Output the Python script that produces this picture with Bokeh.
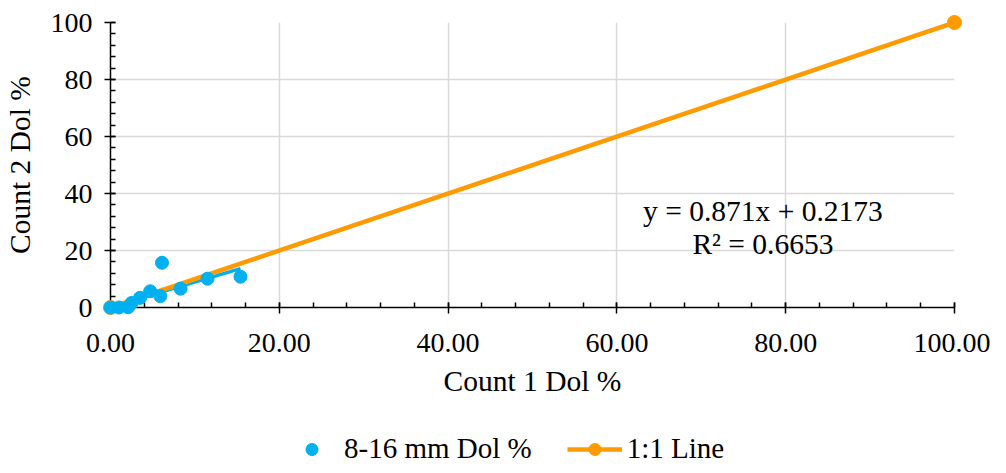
from bokeh.plotting import figure
from bokeh.layouts import column
from bokeh.models import (ColumnDataSource, Range1d, SingleIntervalTicker, NumeralTickFormatter,
                          Legend, LegendItem, Label)
from bokeh.embed import file_html
from bokeh.resources import INLINE

# ---- data ----
count1 = [0.0, 1.0, 2.1, 2.5, 3.5, 4.7, 5.9, 6.1, 8.3, 11.5, 15.4]
count2 = [0.0, 0.0, 0.1, 1.6, 3.4, 5.7, 4.0, 15.7, 6.6, 10.1, 10.8]
one_to_one_x = [0, 100]
one_to_one_y = [0, 100]
slope = 0.871
intercept = 0.2173
r2 = 0.6653
x_ticks = [0, 20, 40, 60, 80, 100]
y_ticks = [0, 20, 40, 60, 80, 100]
series_labels = ["8-16 mm Dol %", "1:1 Line"]

FONT = "Liberation Serif"
BLUE = "#00B0F0"
ORANGE = "#FF9A00"

p = figure(width=990, height=410, output_backend="svg", toolbar_location=None,
           x_range=Range1d(0, 100), y_range=Range1d(0, 100),
           min_border_left=105, min_border_right=36, min_border_top=22, min_border_bottom=103)
p.outline_line_color = None
p.background_fill_color = "white"
p.border_fill_color = "white"

for ax, tk in ((p.xaxis[0], x_ticks), (p.yaxis[0], y_ticks)):
    ax.ticker = SingleIntervalTicker(interval=tk[1] - tk[0], num_minor_ticks=5)
    ax.axis_line_color = "black"
    ax.axis_line_width = 1.5
    ax.major_tick_line_color = "black"
    ax.major_tick_line_width = 1.5
    ax.major_tick_in = 5
    ax.major_tick_out = 6
    ax.minor_tick_line_color = "black"
    ax.minor_tick_line_width = 1.5
    ax.minor_tick_in = 5
    ax.minor_tick_out = 0
    ax.major_label_text_font = FONT
    ax.major_label_text_font_size = "28px"
    ax.major_label_text_color = "black"
    ax.axis_label_text_font = FONT
    ax.axis_label_text_font_size = "29.5px"
    ax.axis_label_text_font_style = "normal"
    ax.axis_label_text_color = "black"

p.xaxis[0].formatter = NumeralTickFormatter(format="0.00")
p.xaxis[0].axis_label = "Count 1 Dol %"
p.yaxis[0].axis_label = "Count 2 Dol %"
p.xaxis[0].major_label_standoff = 20
p.yaxis[0].major_label_standoff = 12
p.xaxis[0].axis_label_standoff = 10
p.yaxis[0].axis_label_standoff = 12

for g in (p.xgrid[0], p.ygrid[0]):
    g.grid_line_color = "#D9D9D9"
    g.grid_line_width = 1.5

# trendline (blue)
tx = [min(count1), max(count1)]
ty = [slope * v + intercept for v in tx]
p.line(tx, ty, line_color=BLUE, line_width=3.5)

# 1:1 line
src11 = ColumnDataSource(dict(x=one_to_one_x, y=one_to_one_y))
p.line("x", "y", source=src11, line_color=ORANGE, line_width=4.5)
p.scatter("x", "y", source=src11, size=14, fill_color=ORANGE, line_color=ORANGE, level="overlay")

# data points
src = ColumnDataSource(dict(x=count1, y=count2))
p.scatter("x", "y", source=src, size=13, fill_color=BLUE, line_color=BLUE, level="overlay")

p.add_layout(Label(x=77.3, y=33.7, text=f"y = {slope}x + {intercept}", text_align="center",
                   text_baseline="middle", text_font=FONT, text_font_size="29.5px", text_color="black"))
p.add_layout(Label(x=77.3, y=22.3, text=f"R² = {r2}", text_align="center",
                   text_baseline="middle", text_font=FONT, text_font_size="29.5px", text_color="black"))

# legend strip (separate figure so it can be centred on the whole chart)
q = figure(width=990, height=55, output_backend="svg", toolbar_location=None,
           x_range=Range1d(0, 1), y_range=Range1d(0, 1), min_border=0)
q.axis.visible = False
q.grid.visible = False
q.outline_line_color = None
# legend proxies: same styles as the series, placed outside the visible range
proxy = ColumnDataSource(dict(x=[-5, -4], y=[-5, -4]))
lp = q.scatter("x", "y", source=proxy, size=13, fill_color=BLUE, line_color=BLUE)
ll = q.line("x", "y", source=proxy, line_color=ORANGE, line_width=4.5)
lc = q.scatter("x", "y", source=proxy, size=14, fill_color=ORANGE, line_color=ORANGE)
legend = Legend(items=[LegendItem(label=series_labels[0], renderers=[lp]),
                       LegendItem(label=series_labels[1], renderers=[ll, lc])],
                orientation="horizontal", location=(174, 0),
                glyph_width=55, glyph_height=30, label_standoff=5, spacing=35,
                padding=0, margin=0, border_line_color=None, background_fill_alpha=0,
                label_text_font=FONT, label_text_font_size="29px", label_text_color="black")
q.add_layout(legend, "center")

layout = column(p, q, spacing=0)
open("out.html", "w").write(file_html(layout, INLINE))
